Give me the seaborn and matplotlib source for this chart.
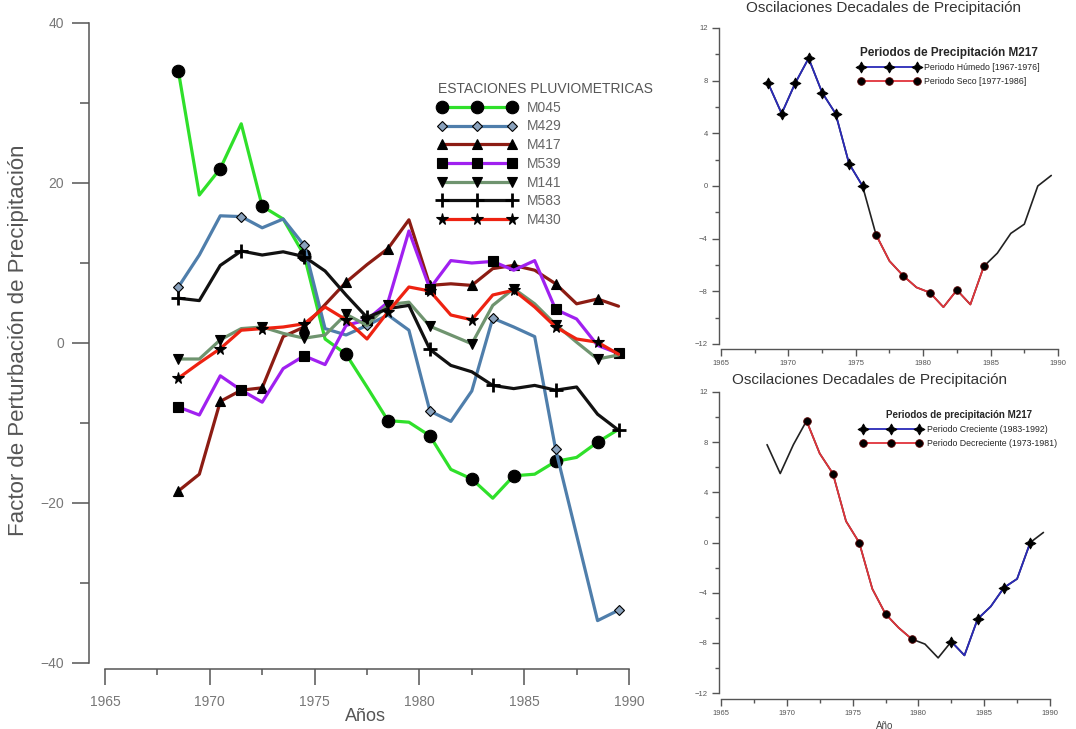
import matplotlib
matplotlib.use("Agg")
import matplotlib.pyplot as plt
import seaborn as sns
from matplotlib.ticker import MultipleLocator

# años (punto medio de cada ventana)
years = [1968.5, 1969.5, 1970.5, 1971.5, 1972.5, 1973.5, 1974.5, 1975.5,
         1976.5, 1977.5, 1978.5, 1979.5, 1980.5, 1981.5, 1982.5, 1983.5,
         1984.5, 1985.5, 1986.5, 1987.5, 1988.5, 1989.5]

# factor de perturbación por estación
M045 = [34.0, 18.5, 21.8, 27.4, 17.1, 15.5, 11.0, 0.5, -1.4, -5.5, -9.7,
        -9.9, -11.6, -15.8, -17.0, -19.4, -16.6, -16.4, -14.8, -14.3, -12.4, -10.8]
M429 = [7.0, 11.0, 15.9, 15.8, 14.4, 15.5, 12.2, 1.8, 1.0, 2.2, 3.5,
        1.6, -8.5, -9.8, -6.0, 3.1, 2.0, 0.8, -13.3, -24.0, -34.7, -33.4]
M417 = [-18.5, -16.4, -7.3, -5.9, -5.6, 0.8, 2.0, 4.8, 7.6, 9.8, 11.8,
        15.4, 7.2, 7.4, 7.2, 9.3, 9.7, 9.1, 7.4, 4.9, 5.5, 4.6]
M539 = [-8.0, -9.0, -4.1, -5.9, -7.4, -3.2, -1.6, -2.7, 2.2, 2.9, 5.1,
        14.0, 6.8, 10.3, 10.0, 10.2, 9.1, 10.3, 4.2, 3.0, -0.3, -1.3]
M141 = [-2.0, -2.0, 0.4, 1.8, 2.0, 1.2, 0.6, 1.0, 3.6, 2.2, 4.8,
        5.1, 2.1, 1.0, -0.1, 4.7, 6.8, 4.9, 2.3, 0.1, -2.0, -1.5]
M583 = [5.6, 5.3, 9.7, 11.5, 11.0, 11.4, 10.8, 9.0, 6.0, 3.2, 4.3,
        4.7, -0.8, -2.8, -3.6, -5.3, -5.7, -5.3, -5.9, -5.5, -8.9, -10.9]
M430 = [-4.4, -2.5, -0.7, 1.6, 1.8, 2.0, 2.4, 4.5, 2.9, 0.5, 3.9,
        7.0, 6.5, 3.5, 2.9, 6.0, 6.6, 4.5, 2.0, 0.5, 0.1, -1.4]

# estación M217 (paneles de la derecha)
M217 = [7.8, 5.5, 7.8, 9.7, 7.1, 5.5, 1.7, 0.0, -3.7, -5.7, -6.8,
        -7.7, -8.1, -9.2, -7.9, -9.0, -6.1, -5.1, -3.6, -2.9, 0.0, 0.8]

sns.set_theme(style="ticks")
plt.rcParams['font.family'] = ['Liberation Sans', 'DejaVu Sans']

fig = plt.figure(figsize=(10.76, 7.29), dpi=100)

# ---------------- panel izquierdo ----------------
ax = fig.add_axes([105 / 1076, 1 - 663 / 729, 524 / 1076, 640 / 729])

estilos = [
    ("M045", M045, "#2fe02a", "o", 9, "black", 2),
    ("M429", M429, "#4f7eab", "D", 5, "#8aa2bd", 3),
    ("M417", M417, "#8c1c13", "^", 7, "black", 2),
    ("M539", M539, "#a020f0", "s", 7, "black", 3),
    ("M141", M141, "#6f946f", "v", 7, "black", 2),
    ("M583", M583, "#111111", "+", 10, "black", 3),
    ("M430", M430, "#ee2211", "*", 8.5, "black", 2),
]
for name, vals, col, mk, ms, mfc, every in estilos:
    sns.lineplot(x=years, y=vals, ax=ax, color=col, lw=2.3, marker=mk,
                 markersize=ms, markerfacecolor=mfc, markeredgecolor="black",
                 markeredgewidth=2 if mk == "+" else 0.8, markevery=every,
                 label=name)

ax.set_xlim(1965, 1990)
ax.set_ylim(-40, 40)
ax.xaxis.set_major_locator(MultipleLocator(5))
ax.xaxis.set_minor_locator(MultipleLocator(2.5))
ax.yaxis.set_major_locator(MultipleLocator(20))
ax.yaxis.set_minor_locator(MultipleLocator(10))
sns.despine(ax=ax)
ax.spines['left'].set_position(('outward', 11.5))
ax.spines['bottom'].set_position(('outward', 4.3))
for s in ['left', 'bottom']:
    ax.spines[s].set_color('#555555')
    ax.spines[s].set_linewidth(1.1)
ax.tick_params(axis='y', which='major', length=12, width=1.1, pad=6,
               labelsize=10, color='#555555', labelcolor='#777777')
ax.tick_params(axis='y', which='minor', length=6.5, width=1.1, color='#555555')
ax.tick_params(axis='x', which='major', length=11.5, width=1.1, pad=7,
               labelsize=10, color='#555555', labelcolor='#777777')
ax.tick_params(axis='x', which='minor', length=4.5, width=1.1, color='#555555')

ax.set_ylabel("Factor de Perturbación de Precipitación", fontsize=16,
              color='#555555', va='center')
ax.yaxis.set_label_coords(-0.166, 0.505)
ax.set_xlabel("Años", fontsize=13, color='#555555', va='center')
ax.xaxis.set_label_coords(0.498, -0.084)

leg = ax.legend(loc='upper left', bbox_to_anchor=(438 / 1076, 1 - 82 / 729),
                bbox_transform=fig.transFigure, frameon=False, borderpad=0,
                borderaxespad=0, handlelength=5.6, handletextpad=0.8,
                labelspacing=0.34, numpoints=3, fontsize=10,
                title="ESTACIONES PLUVIOMETRICAS", title_fontsize=10,
                alignment='left', labelcolor='#666666')
leg.get_title().set_color('#555555')
for l in leg.get_lines():
    l.set_markevery(None)

# ---------------- panel superior derecho ----------------
ax2 = fig.add_axes([721 / 1076, 1 - 344 / 729, 337 / 1076, 316 / 729])
sns.lineplot(x=years, y=M217, ax=ax2, color='#222222', lw=1.2)
sns.lineplot(x=years[:8], y=M217[:8], ax=ax2, color='#2a2ab8', lw=1.3,
             marker=(4, 1, 0), markersize=8, markerfacecolor='black',
             markeredgecolor='black', markeredgewidth=0.6,
             label='Periodo Húmedo [1967-1976]')
sns.lineplot(x=years[8:17], y=M217[8:17], ax=ax2, color='#e0333a', lw=1.3,
             marker='o', markersize=5.5, markerfacecolor='black',
             markeredgecolor='#550000', markeredgewidth=0.6, markevery=2,
             label='Periodo Seco [1977-1986]')

# ---------------- panel inferior derecho ----------------
ax3 = fig.add_axes([721 / 1076, 1 - 693 / 729, 329 / 1076, 301 / 729])
sns.lineplot(x=years, y=M217, ax=ax3, color='#222222', lw=1.2)
sns.lineplot(x=years[14:21], y=M217[14:21], ax=ax3, color='#2a2ab8', lw=1.3,
             marker=(4, 1, 0), markersize=8, markerfacecolor='black',
             markeredgecolor='black', markeredgewidth=0.6, markevery=2,
             label='Periodo Creciente (1983-1992)')
sns.lineplot(x=years[3:12], y=M217[3:12], ax=ax3, color='#e0333a', lw=1.3,
             marker='o', markersize=5.5, markerfacecolor='black',
             markeredgecolor='#550000', markeredgewidth=0.6, markevery=2,
             label='Periodo Decreciente (1973-1981)')

for a, off in [(ax2, 3.6), (ax3, 4.3)]:
    a.set_xlim(1965, 1990)
    a.set_ylim(-12, 12)
    a.xaxis.set_major_locator(MultipleLocator(5))
    a.xaxis.set_minor_locator(MultipleLocator(2.5))
    a.yaxis.set_major_locator(MultipleLocator(4))
    a.yaxis.set_minor_locator(MultipleLocator(2))
    sns.despine(ax=a)
    a.spines['left'].set_position(('outward', 1.5))
    a.spines['bottom'].set_position(('outward', off))
    for s in ['left', 'bottom']:
        a.spines[s].set_color('#555555')
        a.spines[s].set_linewidth(1.0)
    a.tick_params(which='major', length=5, width=1.0, pad=3, labelsize=5.5,
                  color='#555555', labelcolor='#555555')
    a.tick_params(which='minor', length=3, width=1.0, color='#555555')
    a.set_xlabel('')
    a.set_ylabel('')

leg2 = ax2.legend(loc='upper left', bbox_to_anchor=(858 / 1076, 1 - 47 / 729),
                  bbox_transform=fig.transFigure, frameon=False, borderpad=0,
                  borderaxespad=0, handlelength=7.0, handletextpad=0.6,
                  labelspacing=0.5, numpoints=3, fontsize=6.3,
                  title='Periodos de Precipitación M217',
                  title_fontproperties={'weight': 'bold', 'size': 8.5})
leg3 = ax3.legend(loc='upper left', bbox_to_anchor=(860 / 1076, 1 - 410 / 729),
                  bbox_transform=fig.transFigure, frameon=False, borderpad=0,
                  borderaxespad=0, handlelength=7.0, handletextpad=0.7,
                  labelspacing=0.6, numpoints=3, fontsize=6.3,
                  title='Periodos de precipitación M217',
                  title_fontproperties={'weight': 'bold', 'size': 7})
for lg in (leg2, leg3):
    for l in lg.get_lines():
        l.set_markevery(None)

ax3.set_xlabel('Año', fontsize=7, color='#444444', va='center')
ax3.xaxis.set_label_coords(0.4985, -0.11)

fig.text(883 / 1076, 1 - 8 / 729, 'Oscilaciones Decadales de Precipitación',
         ha='center', va='center', fontsize=11, color='#333333')
fig.text(870 / 1076, 1 - 380 / 729, 'Oscilaciones Decadales de Precipitación',
         ha='center', va='center', fontsize=11, color='#333333')

fig.savefig("out.png", dpi=100)
